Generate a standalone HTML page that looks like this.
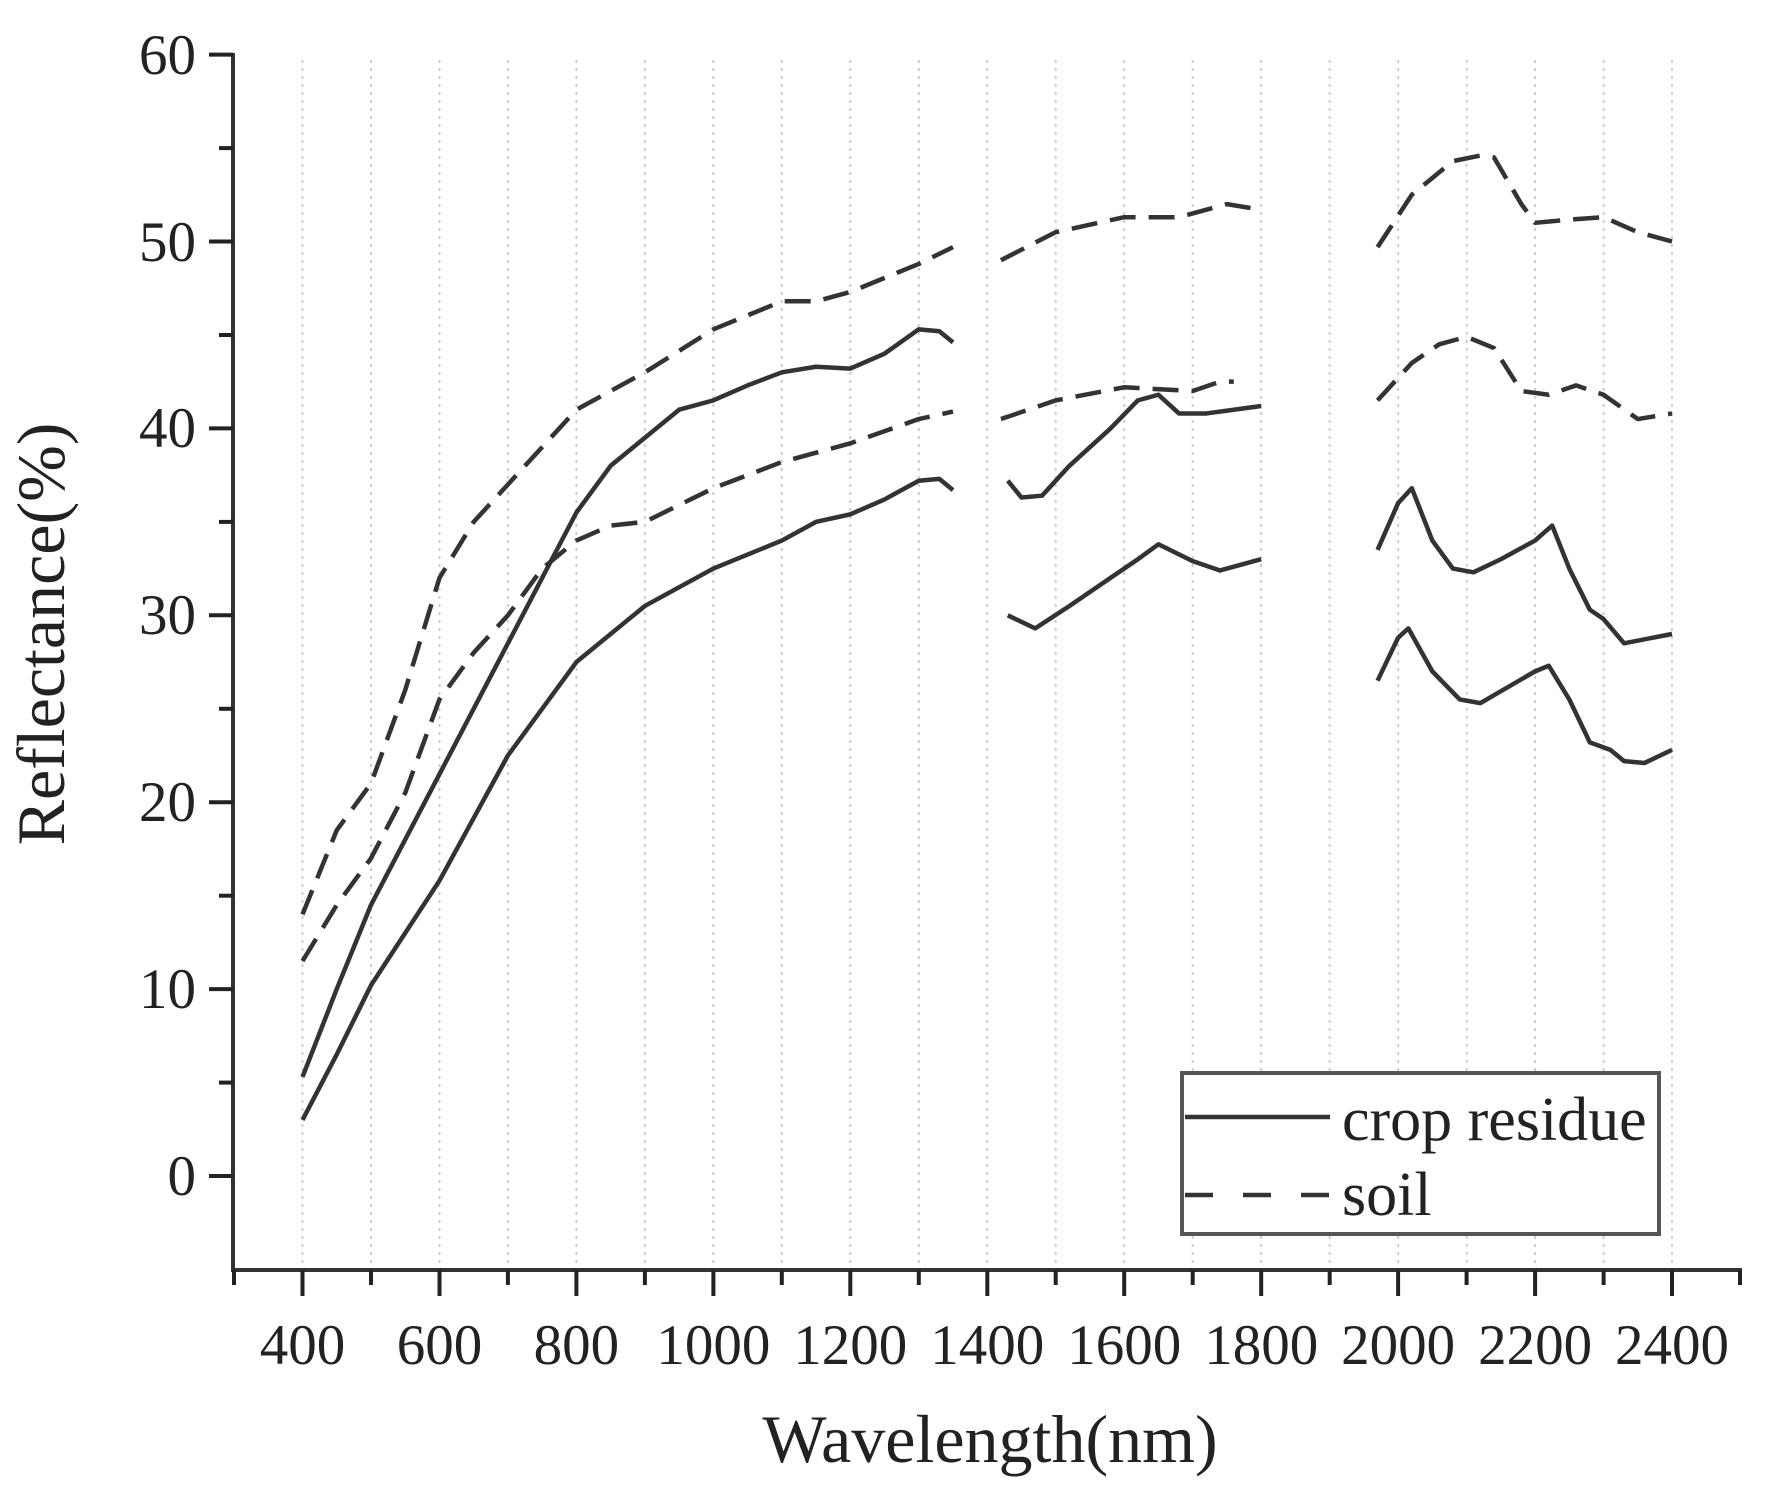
<!DOCTYPE html>
<html><head><meta charset="utf-8"><style>
html,body{margin:0;padding:0;background:#fff}
svg{display:block}
text{font-family:"Liberation Serif",serif;fill:#222}
</style></head><body>
<svg width="1774" height="1494" viewBox="0 0 1774 1494" xmlns="http://www.w3.org/2000/svg">
<g stroke="#ccc" stroke-width="2" stroke-dasharray="3,5">
<line x1="302.5" y1="60" x2="302.5" y2="1268"/><line x1="371" y1="60" x2="371" y2="1268"/>
<line x1="439.5" y1="60" x2="439.5" y2="1268"/><line x1="507.9" y1="60" x2="507.9" y2="1268"/>
<line x1="576.4" y1="60" x2="576.4" y2="1268"/><line x1="644.9" y1="60" x2="644.9" y2="1268"/>
<line x1="713.4" y1="60" x2="713.4" y2="1268"/><line x1="781.8" y1="60" x2="781.8" y2="1268"/>
<line x1="850.3" y1="60" x2="850.3" y2="1268"/><line x1="918.8" y1="60" x2="918.8" y2="1268"/>
<line x1="987.3" y1="60" x2="987.3" y2="1268"/><line x1="1055.7" y1="60" x2="1055.7" y2="1268"/>
<line x1="1124.2" y1="60" x2="1124.2" y2="1268"/><line x1="1192.7" y1="60" x2="1192.7" y2="1268"/>
<line x1="1261.2" y1="60" x2="1261.2" y2="1268"/><line x1="1329.7" y1="60" x2="1329.7" y2="1268"/>
<line x1="1398.1" y1="60" x2="1398.1" y2="1268"/><line x1="1466.6" y1="60" x2="1466.6" y2="1268"/>
<line x1="1535.1" y1="60" x2="1535.1" y2="1268"/><line x1="1603.6" y1="60" x2="1603.6" y2="1268"/>
<line x1="1672" y1="60" x2="1672" y2="1268"/>
</g>
<g stroke="#333" stroke-width="4" fill="none">
<line x1="233" y1="53" x2="233" y2="1272"/>
<line x1="231" y1="1270" x2="1742" y2="1270"/>
</g>
<g stroke="#222" stroke-width="4">
<line x1="234" y1="1270" x2="234" y2="1285"/><line x1="302.5" y1="1270" x2="302.5" y2="1296"/>
<line x1="371" y1="1270" x2="371" y2="1285"/><line x1="439.5" y1="1270" x2="439.5" y2="1296"/>
<line x1="507.9" y1="1270" x2="507.9" y2="1285"/><line x1="576.4" y1="1270" x2="576.4" y2="1296"/>
<line x1="644.9" y1="1270" x2="644.9" y2="1285"/><line x1="713.4" y1="1270" x2="713.4" y2="1296"/>
<line x1="781.8" y1="1270" x2="781.8" y2="1285"/><line x1="850.3" y1="1270" x2="850.3" y2="1296"/>
<line x1="918.8" y1="1270" x2="918.8" y2="1285"/><line x1="987.3" y1="1270" x2="987.3" y2="1296"/>
<line x1="1055.7" y1="1270" x2="1055.7" y2="1285"/><line x1="1124.2" y1="1270" x2="1124.2" y2="1296"/>
<line x1="1192.7" y1="1270" x2="1192.7" y2="1285"/><line x1="1261.2" y1="1270" x2="1261.2" y2="1296"/>
<line x1="1329.7" y1="1270" x2="1329.7" y2="1285"/><line x1="1398.1" y1="1270" x2="1398.1" y2="1296"/>
<line x1="1466.6" y1="1270" x2="1466.6" y2="1285"/><line x1="1535.1" y1="1270" x2="1535.1" y2="1296"/>
<line x1="1603.6" y1="1270" x2="1603.6" y2="1285"/><line x1="1672" y1="1270" x2="1672" y2="1296"/>
<line x1="1740" y1="1270" x2="1740" y2="1285"/>
<line x1="233" y1="1176" x2="209" y2="1176"/><line x1="233" y1="1082.6" x2="219" y2="1082.6"/>
<line x1="233" y1="989.1" x2="209" y2="989.1"/><line x1="233" y1="895.7" x2="219" y2="895.7"/>
<line x1="233" y1="802.2" x2="209" y2="802.2"/><line x1="233" y1="708.8" x2="219" y2="708.8"/>
<line x1="233" y1="615.3" x2="209" y2="615.3"/><line x1="233" y1="521.9" x2="219" y2="521.9"/>
<line x1="233" y1="428.4" x2="209" y2="428.4"/><line x1="233" y1="335" x2="219" y2="335"/>
<line x1="233" y1="241.5" x2="209" y2="241.5"/><line x1="233" y1="148.1" x2="219" y2="148.1"/>
<line x1="233" y1="54.6" x2="209" y2="54.6"/>
</g>
<g font-size="57" text-anchor="middle">
<text x="302.5" y="1364">400</text><text x="439.5" y="1364">600</text><text x="576.4" y="1364">800</text>
<text x="713.4" y="1364">1000</text><text x="850.3" y="1364">1200</text><text x="987.3" y="1364">1400</text>
<text x="1124.2" y="1364">1600</text><text x="1261.2" y="1364">1800</text><text x="1398.1" y="1364">2000</text>
<text x="1535.1" y="1364">2200</text><text x="1672" y="1364">2400</text>
</g>
<g font-size="57" text-anchor="end">
<text x="196" y="1195">0</text><text x="196" y="1008">10</text><text x="196" y="821">20</text>
<text x="196" y="634">30</text><text x="196" y="447">40</text><text x="196" y="261">50</text><text x="196" y="74">60</text>
</g>
<g transform="translate(28.6,1176) scale(0.68475,-18.69)" fill="none" stroke="#333" stroke-width="4.5" stroke-linejoin="round">
<g>
<polyline vector-effect="non-scaling-stroke" points="400,5.3 450,10 500,14.5 600,21.5 700,28.5 800,35.5 850,38 900,39.5 950,41 1000,41.5 1050,42.3 1100,43 1150,43.3 1200,43.2 1250,44 1300,45.3 1330,45.2 1350,44.6"/>
<polyline vector-effect="non-scaling-stroke" points="1430,37.2 1450,36.3 1480,36.4 1520,38 1580,40 1620,41.5 1650,41.8 1680,40.8 1720,40.8 1760,41 1800,41.2"/>
<polyline vector-effect="non-scaling-stroke" points="1970,33.5 2000,36 2020,36.8 2050,34 2080,32.5 2110,32.3 2150,33 2200,34 2225,34.8 2250,32.5 2280,30.3 2300,29.8 2330,28.5 2400,29"/>
<polyline vector-effect="non-scaling-stroke" points="400,3 450,6.5 500,10.2 600,15.8 700,22.5 800,27.5 900,30.5 1000,32.5 1100,34 1150,35 1200,35.4 1250,36.2 1300,37.2 1330,37.3 1350,36.7"/>
<polyline vector-effect="non-scaling-stroke" points="1430,30 1470,29.3 1520,30.5 1580,32 1620,33 1650,33.8 1700,32.9 1740,32.4 1800,33"/>
<polyline vector-effect="non-scaling-stroke" points="1970,26.5 2000,28.8 2015,29.3 2050,27 2090,25.5 2120,25.3 2200,27 2220,27.3 2250,25.5 2280,23.2 2310,22.8 2330,22.2 2360,22.1 2400,22.8"/>
</g>
<g stroke-dasharray="26,13">
<polyline vector-effect="non-scaling-stroke" points="400,14 450,18.5 500,21 550,26 600,32 650,35 700,37 750,39 800,41 900,43 1000,45.3 1100,46.8 1150,46.8 1200,47.3 1300,48.8 1350,49.7"/>
<polyline vector-effect="non-scaling-stroke" points="1420,49 1500,50.5 1600,51.3 1680,51.3 1750,52 1800,51.7"/>
<polyline vector-effect="non-scaling-stroke" points="1970,49.7 2020,52.5 2080,54.3 2120,54.6 2140,54.5 2180,52 2200,51 2260,51.2 2300,51.3 2350,50.5 2400,50"/>
<polyline vector-effect="non-scaling-stroke" points="400,11.5 450,14.5 500,17 550,20.5 600,25.5 650,28 700,30 750,32.5 800,34 850,34.8 900,35 1000,36.8 1100,38.2 1200,39.2 1300,40.5 1350,40.9"/>
<polyline vector-effect="non-scaling-stroke" points="1420,40.5 1500,41.5 1600,42.2 1700,42 1740,42.5 1760,42.5"/>
<polyline vector-effect="non-scaling-stroke" points="1970,41.5 2020,43.5 2060,44.5 2100,44.9 2140,44.3 2180,42 2220,41.8 2260,42.3 2300,41.8 2350,40.5 2400,40.8"/>
</g>
</g>
<text x="990" y="1462" font-size="68" text-anchor="middle">Wavelength(nm)</text>
<text transform="translate(64,634) rotate(-90)" font-size="68" text-anchor="middle">Reflectance(%)</text>
<rect x="1182" y="1073" width="477" height="161" fill="#fff" stroke="#555" stroke-width="4"/>
<line x1="1185" y1="1117" x2="1330" y2="1117" stroke="#333" stroke-width="4.5"/>
<line x1="1185" y1="1195" x2="1330" y2="1195" stroke="#333" stroke-width="4.5" stroke-dasharray="28,30"/>
<text x="1342" y="1140" font-size="62">crop residue</text>
<text x="1342" y="1215" font-size="62">soil</text>
</svg>
</body></html>
